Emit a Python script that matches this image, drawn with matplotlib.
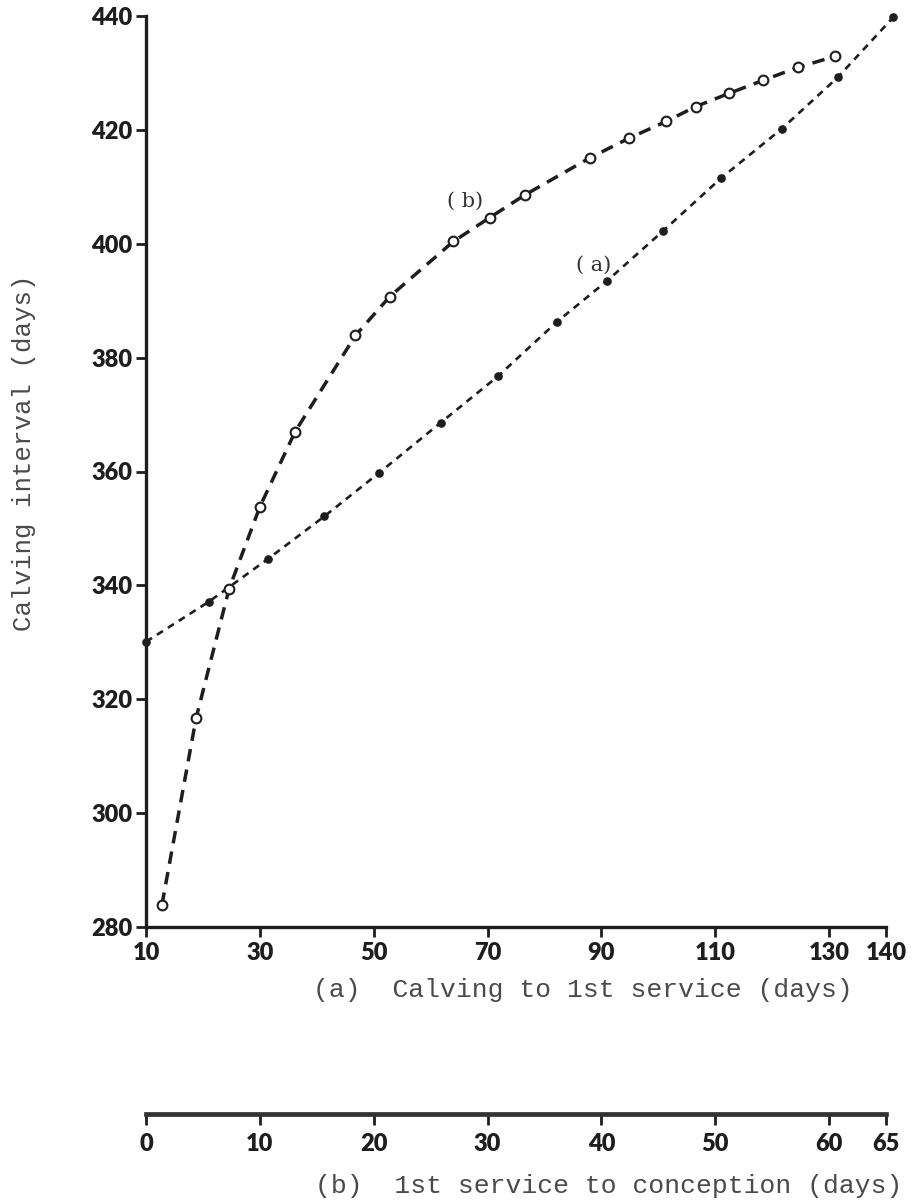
import matplotlib
matplotlib.use("Agg")
import matplotlib.pyplot as plt

# ---- data ----
# (a) calving to 1st service (days) vs calving interval (days)
a_x = [10, 21.0, 31.5, 41.3, 51.0, 61.8, 71.8, 82.2, 90.9, 100.9, 111.0, 121.7, 131.5, 141.3]
a_y = [330.1, 337.1, 344.7, 352.1, 359.8, 368.6, 376.7, 386.3, 393.4, 402.3, 411.5, 420.2, 429.2, 439.8]
# (b) 1st service to conception (days) vs calving interval (days)
b_x = [1.4, 4.4, 7.3, 10.0, 13.1, 18.4, 21.4, 27.0, 30.2, 33.3, 39.0, 42.4, 45.7, 48.3, 51.2, 54.2, 57.3, 60.5]
b_y = [283.9, 316.7, 339.4, 353.8, 367.0, 383.9, 390.7, 400.4, 404.6, 408.6, 415.1, 418.5, 421.5, 424.1, 426.4, 428.7, 431.0, 432.9]

y_ticks = [280, 300, 320, 340, 360, 380, 400, 420, 440]
xa_ticks = [10, 30, 50, 70, 90, 110, 130, 140]
xb_ticks = [0, 10, 20, 30, 40, 50, 60, 65]

INK = "#1e1e1e"
W_PX, H_PX = 922, 1202
fig = plt.figure(figsize=(W_PX / 100, H_PX / 100), dpi=100)

x0, x1 = 146, 886
y_top, y_bot = 16, 927
L = x0 / W_PX
W = (x1 - x0) / W_PX
B = (H_PX - y_bot) / H_PX
H = (y_bot - y_top) / H_PX

tick_font = dict(family="Lato", weight="heavy", size=17)
mono = dict(family="Liberation Mono", size=19, color="#4a4a4a")

ax = fig.add_axes([L, B, W, H])
ax.set_xlim(10, 140)
ax.set_ylim(280, 440)
for s in ["top", "right"]:
    ax.spines[s].set_visible(False)
for s in ["left", "bottom"]:
    ax.spines[s].set_linewidth(2.4)
    ax.spines[s].set_color(INK)
ax.set_yticks(y_ticks)
ax.set_xticks(xa_ticks)
ax.tick_params(axis="both", direction="out", width=2, length=7, color=INK)
ax.tick_params(axis="y", pad=3)
ax.tick_params(axis="x", pad=4)
ax.set_yticklabels([str(v) for v in y_ticks], **tick_font, color=INK)
ax.set_xticklabels([str(v) for v in xa_ticks], **tick_font, color=INK)

ax.plot(a_x, a_y, color=INK, lw=1.9, dashes=(2.7, 2.2), marker="o", ms=5.2,
        mfc=INK, mec=INK, clip_on=False, zorder=3)

axb = ax.twiny()
axb.set_xlim(0, 65)
axb.set_ylim(280, 440)
axb.axis("off")
axb.plot(b_x, b_y, color=INK, lw=2.5, dashes=(3.6, 2.4), marker="o", ms=7,
         mfc="white", mec=INK, mew=1.5, clip_on=False, zorder=3)

ax.text(66.1, 407.4, "( b)", family="DejaVu Serif", size=15, color="#333333",
        ha="center", va="center")
ax.text(88.7, 396.3, "( a)", family="DejaVu Serif", size=15, color="#333333",
        ha="center", va="center")

fig.text(24 / W_PX, 1 - 453 / H_PX, "Calving interval (days)", rotation=90,
         ha="center", va="center", family="Liberation Mono", size=18.5, color="#4a4a4a")
fig.text(583 / W_PX, 1 - 990 / H_PX, "(a)  Calving to 1st service (days)",
         ha="center", va="center", **mono)

# second scale: 1st service to conception
y_axb = 1114
ax3 = fig.add_axes([L, (H_PX - y_axb) / H_PX, W, 0.0005])
ax3.set_xlim(0, 65)
ax3.set_yticks([])
for s in ["top", "right", "left"]:
    ax3.spines[s].set_visible(False)
ax3.spines["bottom"].set_linewidth(3.4)
ax3.spines["bottom"].set_color("#333333")
ax3.patch.set_visible(False)
ax3.set_xticks(xb_ticks)
ax3.tick_params(axis="x", direction="out", width=2, length=8, color=INK, pad=6)
ax3.set_xticklabels([str(v) for v in xb_ticks], **tick_font, color=INK)
fig.text(609 / W_PX, 1 - 1186 / H_PX, "(b)  1st service to conception (days)",
         ha="center", va="center", **mono)

fig.savefig("out.png", dpi=100, facecolor="white")
